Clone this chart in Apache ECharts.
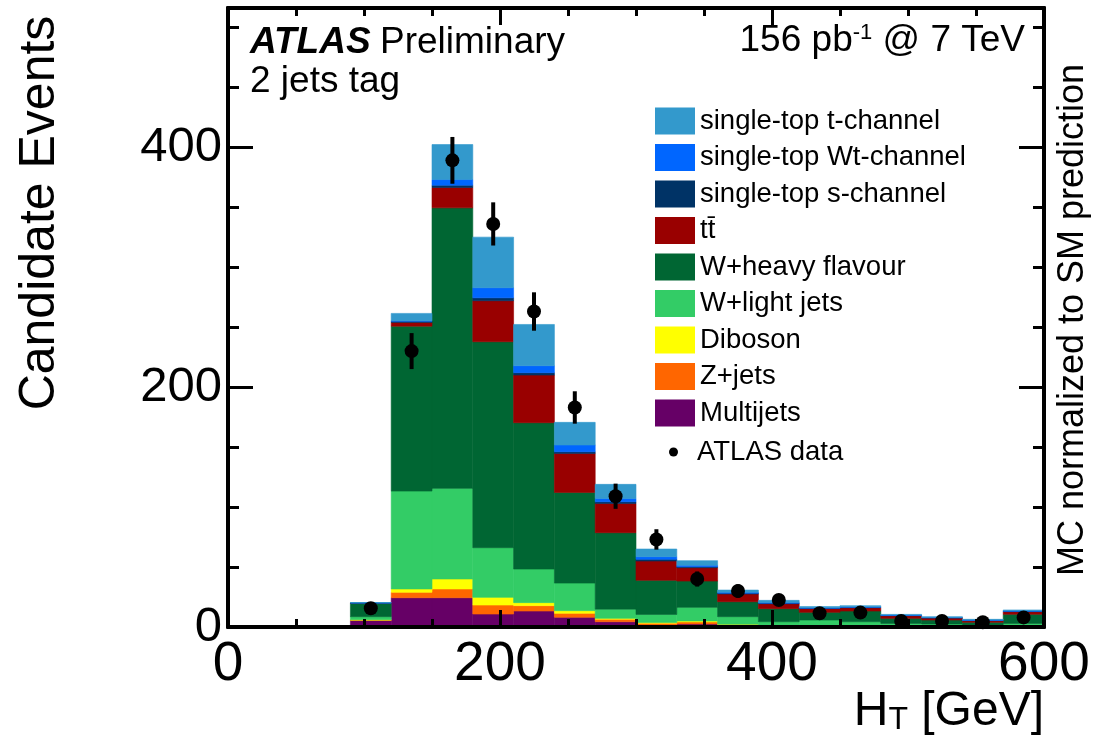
<!DOCTYPE html>
<html>
<head>
<meta charset="utf-8">
<title>H_T 2 jets tag</title>
<script src="https://cdn.jsdelivr.net/npm/echarts@6/dist/echarts.min.js"></script>
<style>
html,body{margin:0;padding:0;background:#fff;}
#main{width:1100px;height:751px;}
</style>
</head>
<body>
<div id="main"></div>
<script>
// bin edges in GeV
var binEdges = [90,120,150,180,210,240,270,300,330,360,390,420,450,480,510,540,570,600];

// MC components, bottom of stack first
var multijets = [5.4, 24.4, 24.4, 10.8, 13.3, 8.1, 4.4, 1.5, 2.5, 1.5, 0.5, 0.5, 0.2, 0, 0, 0, 0];
var zjets     = [0.4, 4.5, 7.3, 7.5, 4.5, 3.3, 2.0, 1.7, 1.7, 0.5, 0.3, 0.7, 0.2, 0.2, 0.1, 0.1, 0.1];
var diboson   = [0.2, 2.8, 8.3, 6.4, 2.5, 2.2, 0.8, 0.6, 0.8, 0.3, 0.4, 0.3, 0.2, 0.1, 0.1, 0.1, 0.1];
var wlight    = [2.6, 81.6, 75.6, 41.4, 28.0, 23.0, 7.7, 6.7, 11.4, 6.3, 3.2, 4.3, 3.8, 2.7, 2.3, 1.3, 2.8];
var wheavy    = [11.1, 137.5, 233.8, 171.7, 122.0, 75.6, 63.7, 28.4, 21.9, 12.5, 10.9, 6.4, 8.9, 4.2, 3.3, 2.4, 7.6];
var ttbar     = [0.2, 3.1, 17.0, 34.2, 39.7, 32.5, 24.4, 16.1, 11.1, 6.4, 4.1, 3.2, 2.8, 2.2, 1.7, 1.4, 2.2];
var schan     = [0.1, 0.9, 1.9, 2.4, 2.0, 1.4, 1.4, 1.4, 0.9, 0.7, 0.5, 0.3, 0.3, 0.2, 0.2, 0.2, 0.3];
var wtchan    = [0.1, 0.5, 4.7, 8.4, 5.8, 5.6, 2.8, 2.2, 1.1, 0.7, 0.6, 0.4, 0.4, 0.3, 0.3, 0.3, 0.4];
var tchan     = [0.3, 6.1, 29.2, 42.2, 34.4, 18.9, 11.7, 6.4, 3.9, 1.9, 1.7, 0.9, 1.0, 0.6, 0.6, 0.6, 0.7];

// ATLAS data
var dataValues = [15.6, 230, 389, 336, 263, 183, 109, 73, 40, 30, 22.5, 11.5, 12, 5, 5, 4, 8];
var dataErrors = [4, 15, 19.5, 18, 16, 13.5, 10.5, 8.5, 6.3, 5.5, 4.7, 3.4, 3.5, 2.2, 2.2, 2, 2.8];

var yTicks = [0, 200, 400];
var xTicks = [0, 200, 400, 600];

var FONT = '"Liberation Sans", Arial, Helvetica, sans-serif';

// stack definition (bottom -> top)
var stack = [
    {name:'Multijets', data:multijets, color:'#660066'},
    {name:'Z+jets', data:zjets, color:'#ff6600'},
    {name:'Diboson', data:diboson, color:'#ffff00'},
    {name:'W+light jets', data:wlight, color:'#33cc66'},
    {name:'W+heavy flavour', data:wheavy, color:'#006633'},
    {name:'tt\u0304', data:ttbar, color:'#990000'},
    {name:'single-top s-channel', data:schan, color:'#003366'},
    {name:'single-top Wt-channel', data:wtchan, color:'#0066ff'},
    {name:'single-top t-channel', data:tchan, color:'#3399cc'}
];

var base = [];
for(var i=0;i<binEdges.length-1;i++){ base.push(0); }

var series = [];
stack.forEach(function(comp){
    var rows = [];
    for(var i=0;i<comp.data.length;i++){
        rows.push([binEdges[i], binEdges[i+1], base[i], base[i]+comp.data[i]]);
        base[i] += comp.data[i];
    }
    series.push({
        name: comp.name,
        type: 'custom',
        itemStyle: {color: comp.color},
        encode: {x:[0,1], y:[2,3]},
        data: rows,
        z: 2,
        renderItem: function(params, api){
            var p0 = api.coord([api.value(0), api.value(2)]);
            var p1 = api.coord([api.value(1), api.value(3)]);
            return {
                type: 'rect',
                shape: {x:p0[0], y:p1[1], width:p1[0]-p0[0], height:p0[1]-p1[1]},
                style: {fill: comp.color, stroke: comp.color, lineWidth: 0.6}
            };
        }
    });
});

var points = [];
var errRows = [];
for(var j=0;j<dataValues.length;j++){
    var c = (binEdges[j]+binEdges[j+1])/2;
    points.push([c, dataValues[j]]);
    errRows.push([c, dataValues[j]-dataErrors[j], dataValues[j]+dataErrors[j]]);
}

series.push({
    name: 'errors',
    type: 'custom',
    encode: {x:0, y:[1,2]},
    data: errRows,
    z: 4,
    renderItem: function(params, api){
        var a = api.coord([api.value(0), api.value(1)]);
        var b = api.coord([api.value(0), api.value(2)]);
        return {type:'line', shape:{x1:a[0], y1:a[1], x2:b[0], y2:b[1]}, style:{stroke:'#000', lineWidth:4}};
    }
});
series.push({
    name: 'ATLAS data',
    type: 'scatter',
    symbol: 'circle',
    symbolSize: 14,
    itemStyle: {color:'#000', opacity:1},
    data: points,
    z: 5
});

var lineStyle = {color:'#000', width:4};
var tickStyle = {color:'#000', width:3};

function xAx(pos, labels){
    return {
        type:'value', min:0, max:600, interval:200, position:pos,
        axisLine:{show:true, onZero:false, lineStyle:lineStyle},
        axisTick:{show:true, inside:true, length:17, lineStyle:tickStyle},
        minorTick:{show:true, splitNumber:4, length:8, lineStyle:tickStyle},
        axisLabel:{show:labels, fontSize:55, margin:10, color:'#000', fontFamily:FONT,
            formatter:function(v){ return xTicks.indexOf(v)>=0 ? String(v) : ''; }},
        splitLine:{show:false},
        z:10
    };
}
function yAx(pos, interval, len, labels){
    return {
        type:'value', min:0, max:516, interval:interval, position:pos,
        axisLine:{show:true, onZero:false, lineStyle:lineStyle},
        axisTick:{show:true, inside:true, length:len, lineStyle:tickStyle},
        axisLabel:{show:labels, fontSize:49, margin:6, color:'#000', fontFamily:FONT, showMaxLabel:false,
            formatter:function(v){ return yTicks.indexOf(v)>=0 ? String(v) : ''; }},
        splitLine:{show:false},
        z:10
    };
}

var legendNames = stack.map(function(s){ return s.name; }).reverse();

var option = {
    animation: false,
    grid: {left:228, right:56, top:8, bottom:124, containLabel:false},
    xAxis: [xAx('bottom', true), xAx('top', false)],
    yAxis: [yAx('left', 200, 25, true), yAx('left', 50, 11, false), yAx('right', 200, 25, false), yAx('right', 50, 11, false)],
    legend: [{
        data: legendNames,
        orient: 'vertical',
        left: 650, top: 102,
        icon: 'rect',
        itemWidth: 40, itemHeight: 27, itemGap: 8.5,
        selectedMode: false,
        textStyle: {fontSize:27.5, color:'#000', fontFamily:FONT}
    },{
        data: ['ATLAS data'],
        left: 664, top: 433,
        icon: 'circle',
        itemWidth: 9, itemHeight: 9,
        selectedMode: false,
        textStyle: {fontSize:27.5, color:'#000', fontFamily:FONT, padding:[0,0,0,14]}
    }],
    graphic: [
        {type:'text', left:250, top:24, style:{text:'ATLAS', font:'italic bold 37px '+FONT, fill:'#000'}},
        {type:'text', left:380, top:24, style:{text:'Preliminary', font:'37px '+FONT, fill:'#000'}},
        {type:'text', left:250, top:63, style:{text:'2 jets tag', font:'37px '+FONT, fill:'#000'}},
        {type:'text', right:75, top:22, style:{
            text:'{a|156 pb}{s|-1}{a| @ 7 TeV}', fill:'#000',
            rich:{a:{fontSize:37, fontFamily:FONT, verticalAlign:'bottom'}, s:{fontSize:22, fontFamily:FONT, verticalAlign:'top'}}
        }},
        {type:'text', x:40, y:213, rotation:Math.PI/2, style:{text:'Candidate Events', font:'50px '+FONT, fill:'#000', textAlign:'center', textVerticalAlign:'middle'}},
        {type:'text', x:1073, y:320, rotation:Math.PI/2, style:{text:'MC normalized to SM prediction', font:'36px '+FONT, fill:'#000', textAlign:'center', textVerticalAlign:'middle'}},
        {type:'text', right:56, top:688, style:{
            text:'{a|H}{s|T}{a| [GeV]}', fill:'#000',
            rich:{a:{fontSize:48, fontFamily:FONT, verticalAlign:'top'}, s:{fontSize:32, fontFamily:FONT, verticalAlign:'bottom', padding:[0,0,0,0]}}
        }}
    ],
    series: series
};

var chart = echarts.init(document.getElementById('main'));
chart.setOption(option);
</script>
</body>
</html>
